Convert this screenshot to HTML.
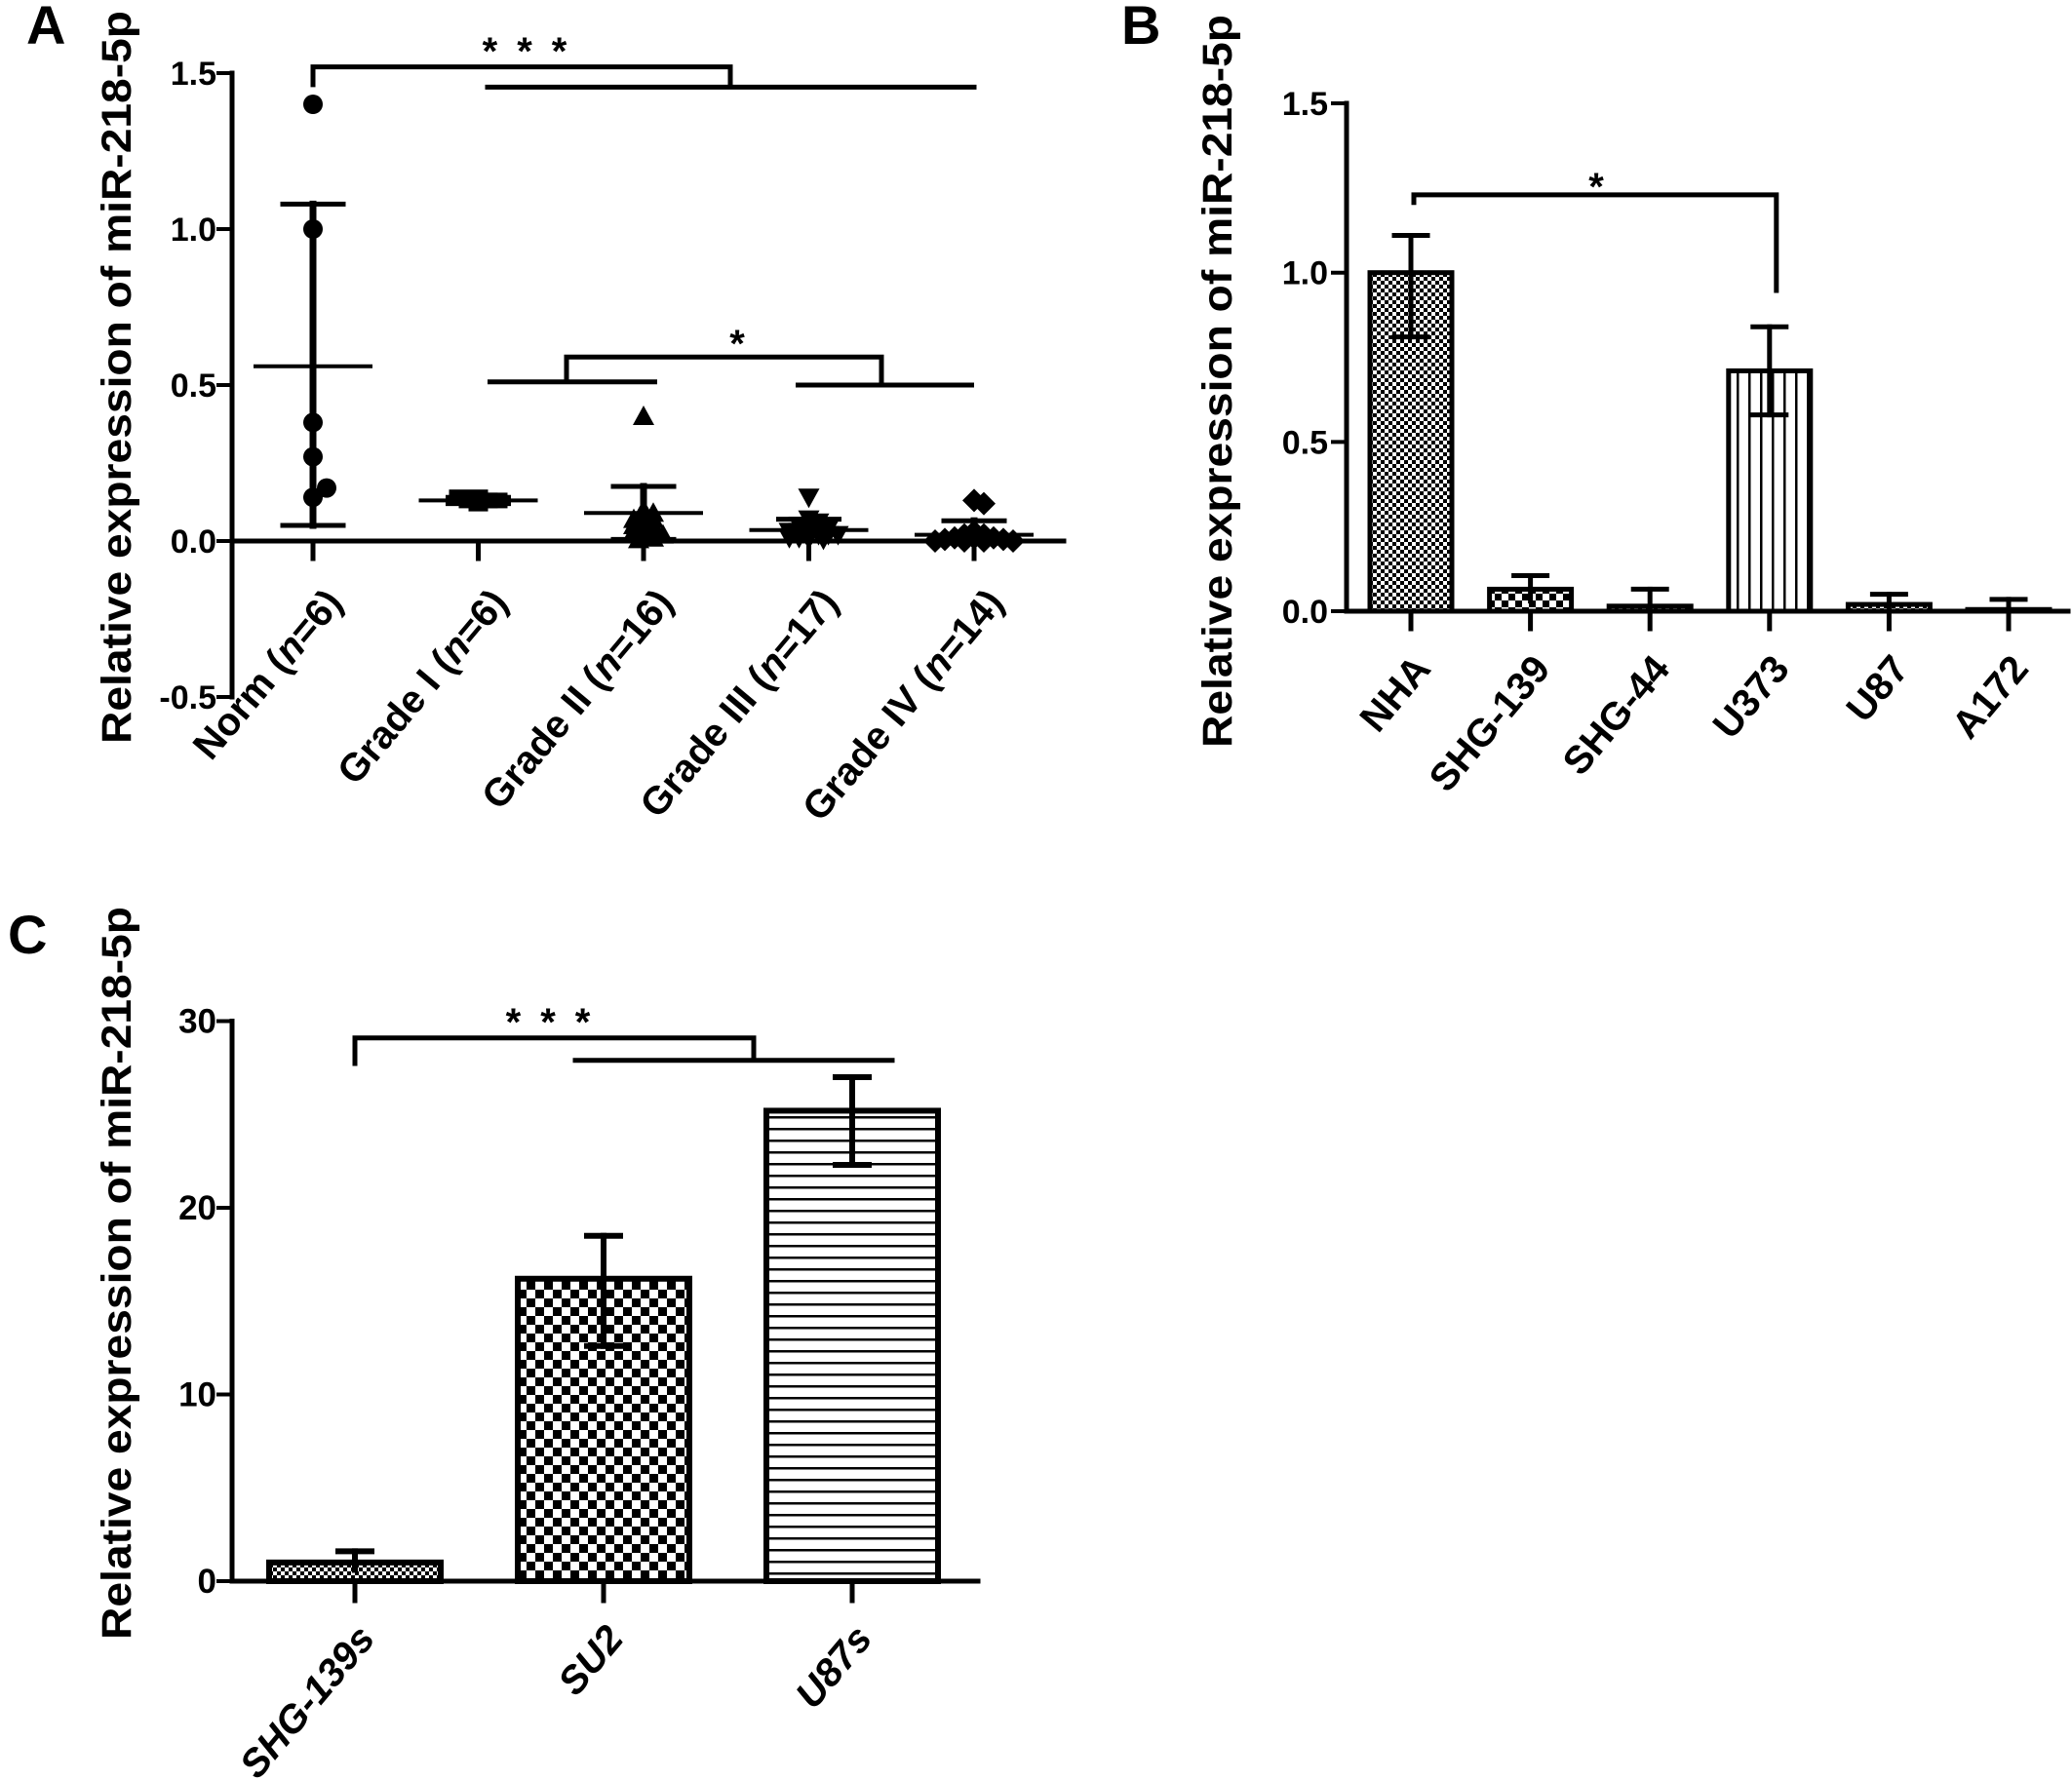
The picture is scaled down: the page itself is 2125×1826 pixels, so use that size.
<!DOCTYPE html>
<html><head><meta charset="utf-8">
<style>
html,body{margin:0;padding:0;background:#fff;}
svg{display:block;}
text{font-family:"Liberation Sans",Arial,sans-serif;font-weight:bold;fill:#000;}
</style></head>
<body>
<svg id="fig" xmlns="http://www.w3.org/2000/svg" width="2125" height="1826" viewBox="0 0 2125 1826">
<defs>
<pattern id="patFine" width="8" height="8" patternUnits="userSpaceOnUse"><rect width="8" height="8" fill="#fff"/><rect width="4" height="4" fill="#000"/><rect x="4" y="4" width="4" height="4" fill="#000"/></pattern>
<pattern id="patCheck" width="14" height="14" patternUnits="userSpaceOnUse"><rect width="14" height="14" fill="#fff"/><rect width="7" height="7" fill="#000"/><rect x="7" y="7" width="7" height="7" fill="#000"/></pattern>
<pattern id="patCheckC" width="18" height="18" patternUnits="userSpaceOnUse"><rect width="18" height="18" fill="#fff"/><rect width="9" height="9" fill="#000"/><rect x="9" y="9" width="9" height="9" fill="#000"/></pattern>
<pattern id="patV" width="12" height="12" patternUnits="userSpaceOnUse"><rect width="12" height="12" fill="#fff"/><rect x="5" width="2.5" height="12" fill="#000"/></pattern>
<pattern id="patH" width="12" height="12" patternUnits="userSpaceOnUse"><rect width="12" height="12" fill="#fff"/><rect y="5" width="12" height="2.5" fill="#000"/></pattern>
</defs>
<g id="root"></g>
</svg>
<script>
// ---------- Panel A data ----------
const catsA = ["Norm", "Grade I", "Grade II", "Grade III", "Grade IV"];
const nA = ["6", "6", "16", "17", "14"];
const normVals = [1.40, 1.00, 0.38, 0.27, 0.14, 0.17];
const grade1Vals = [0.14, 0.13, 0.13, 0.12, 0.13, 0.14];
const grade2Vals = [0.40, 0.10, 0.09, 0.08, 0.07, 0.07, 0.06, 0.05, 0.05, 0.04, 0.03, 0.03, 0.02, 0.02, 0.01, 0.005];
const grade3Vals = [0.14, 0.07, 0.06, 0.05, 0.05, 0.04, 0.04, 0.03, 0.03, 0.03, 0.02, 0.02, 0.02, 0.01, 0.01, 0.01, 0.005];
const grade4Vals = [0.13, 0.12, 0.03, 0.02, 0.02, 0.01, 0.01, 0.01, 0.005, 0.005, 0, 0, 0, 0];
const meanA = [0.56, 0.13, 0.09, 0.035, 0.02];
const sdHiA = [1.08, 0.14, 0.175, 0.07, 0.065];
const sdLoA = [0.05, 0.12, 0.005, 0.0, 0.0];
const ticksA = [-0.5, 0.0, 0.5, 1.0, 1.5];
const tickLabelsA = ["-0.5", "0.0", "0.5", "1.0", "1.5"];
// ---------- Panel B data ----------
const catsB = ["NHA", "SHG-139", "SHG-44", "U373", "U87", "A172"];
const valsB = [1.0, 0.065, 0.015, 0.71, 0.02, 0.005];
const errHiB = [1.11, 0.105, 0.065, 0.84, 0.05, 0.035];
const errLoB = [0.81, 0.03, 0.0, 0.58, 0.0, 0.0];
const ticksB = [0.0, 0.5, 1.0, 1.5];
const tickLabelsB = ["0.0", "0.5", "1.0", "1.5"];
// ---------- Panel C data ----------
const catsC = ["SHG-139s", "SU2", "U87s"];
const valsC = [1.0, 16.2, 25.2];
const errHiC = [1.6, 18.5, 27.0];
const errLoC = [0.6, 12.6, 22.3];
const ticksC = [0, 10, 20, 30];
const tickLabelsC = ["0", "10", "20", "30"];

const NS = "http://www.w3.org/2000/svg";
const root = document.getElementById("root");
function mk(tag, attrs, parent) {
  const e = document.createElementNS(NS, tag);
  for (const k in attrs) e.setAttribute(k, attrs[k]);
  (parent || root).appendChild(e);
  return e;
}
function line(x1, y1, x2, y2, w, p) {
  return mk("line", {x1: x1, y1: y1, x2: x2, y2: y2, stroke: "#000", "stroke-width": w || 5, "stroke-linecap": "square"}, p);
}

const yA = v => 555 - v * 320;
const xA = i => 321 + i * 169.5;
const yB = v => 627 - v * 347.3;
const xB = i => 1447 + i * 122.6;
const yC = v => 1622 - v * 19.15;
const xC = i => 364 + i * 255;

// ---------- Panel A ----------
const gA = mk("g", {});


let t = mk("text", {x: 27, y: 45, "font-size": 56}, gA);
t.textContent = "A";


t = mk("text", {transform: "translate(134,387) rotate(-90)", "text-anchor": "middle", "font-size": 43, textLength: 752, lengthAdjust: "spacingAndGlyphs"}, gA);
t.textContent = "Relative expression of miR-218-5p";


let ax = line(238, yA(1.5), 238, yA(-0.5), 5, gA);


ax = line(238, yA(0), 1091, yA(0), 5, gA);


ticksA.forEach((v, i) => {
  line(224, yA(v), 238, yA(v), 4, gA);
  const tl = mk("text", {x: 222, y: yA(v) + 12, "text-anchor": "end", "font-size": 34}, gA);
  tl.textContent = tickLabelsA[i];
  
  
});
const groupsA = [normVals, grade1Vals, grade2Vals, grade3Vals, grade4Vals];
function marker(kind, cx, cy, p) {
  const r = 10;
  if (kind === 0) return mk("circle", {cx: cx, cy: cy, r: r}, p);
  if (kind === 1) return mk("rect", {x: cx - r, y: cy - 8, width: 2 * r, height: 16}, p);
  if (kind === 2) return mk("polygon", {points: `${cx},${cy - 11} ${cx + 11},${cy + 9} ${cx - 11},${cy + 9}`}, p);
  if (kind === 3) return mk("polygon", {points: `${cx},${cy + 11} ${cx + 11},${cy - 9} ${cx - 11},${cy - 9}`}, p);
  return mk("polygon", {points: `${cx},${cy - 12} ${cx + 12},${cy} ${cx},${cy + 12} ${cx - 12},${cy}`}, p);
}
groupsA.forEach((vals, gi) => {
  const cx = xA(gi);
  line(cx, yA(0), cx, yA(0) + 18, 5, gA);
  const placed = [];
  const step = gi === 0 ? 14 : 5, minD = gi === 0 ? 16 : 6;
  vals.forEach(v => {
    const cy = yA(v);
    let off = 0;
    for (let k = 0; k < 60; k++) {
      const cand = k === 0 ? 0 : (k % 2 ? 1 : -1) * Math.ceil(k / 2) * step;
      if (placed.every(pp => Math.hypot(pp[0] - cand, pp[1] - cy) >= minD)) { off = cand; break; }
    }
    placed.push([off, cy]);
    const m = marker(gi, cx + off, cy, gA);
    
    
  });
  const mw = 59, cw = 31;
  let e = line(cx, yA(sdHiA[gi]), cx, yA(sdLoA[gi]), 7, gA);
  
  
  line(cx - cw, yA(sdHiA[gi]), cx + cw, yA(sdHiA[gi]), 5, gA);
  line(cx - cw, yA(sdLoA[gi]), cx + cw, yA(sdLoA[gi]), 5, gA);
  e = line(cx - mw, yA(meanA[gi]), cx + mw, yA(meanA[gi]), 4, gA);
  
  
  const lab = mk("text", {transform: `translate(${cx + 32},${yA(0) + 64}) rotate(-50)`, "text-anchor": "end", "font-size": 40}, gA);
  lab.innerHTML = catsA[gi] + ' (<tspan font-style="italic">n</tspan>=' + nA[gi] + ')';
  
  
});
const brA = mk("g", {}, gA);


mk("path", {d: `M${xA(0)},${yA(1.455)} V${yA(1.52)} H749 V${yA(1.455)}`, fill: "none", stroke: "#000", "stroke-width": 5}, brA);
line(500, yA(1.455), xA(4), yA(1.455), 5, brA);
t = mk("text", {x: 548, y: 66, "text-anchor": "middle", "font-size": 40, "letter-spacing": 20}, brA);
t.textContent = "***";
mk("path", {d: `M500,${yA(0.51)} H674 M581,${yA(0.51)} V${yA(0.59)} H904 V${yA(0.5)} M816,${yA(0.5)} H${xA(4)}`, fill: "none", stroke: "#000", "stroke-width": 5}, brA);
t = mk("text", {x: 756, y: 366, "text-anchor": "middle", "font-size": 40}, brA);
t.textContent = "*";

// ---------- Panel B ----------
const gB = mk("g", {});


t = mk("text", {x: 1150, y: 45, "font-size": 56}, gB);
t.textContent = "B";


t = mk("text", {transform: "translate(1263,391) rotate(-90)", "text-anchor": "middle", "font-size": 43, textLength: 752, lengthAdjust: "spacingAndGlyphs"}, gB);
t.textContent = "Relative expression of miR-218-5p";


ax = line(1381, yB(1.5), 1381, yB(0), 5, gB);


ticksB.forEach((v, i) => {
  line(1367, yB(v), 1381, yB(v), 4, gB);
  const tl = mk("text", {x: 1362, y: yB(v) + 12, "text-anchor": "end", "font-size": 34}, gB);
  tl.textContent = tickLabelsB[i];
  
  
});
const fillsB = ["url(#patFine)", "url(#patCheck)", "url(#patFine)", "url(#patV)", "url(#patFine)", "url(#patFine)"];
catsB.forEach((c, i) => {
  const cx = xB(i), bw = 84;
  const b = mk("rect", {x: cx - bw / 2, y: yB(valsB[i]), width: bw, height: yB(0) - yB(valsB[i]), fill: fillsB[i], stroke: "#000", "stroke-width": 5}, gB);
  
  
  line(cx, yB(errHiB[i]), cx, yB(errLoB[i]), 5, gB);
  line(cx - 17, yB(errHiB[i]), cx + 17, yB(errHiB[i]), 5, gB);
  if (errLoB[i] > 0.05) line(cx - 17, yB(errLoB[i]), cx + 17, yB(errLoB[i]), 5, gB);
  line(cx, yB(0), cx, yB(0) + 18, 5, gB);
  const lab = mk("text", {transform: `translate(${cx + 22},${yB(0) + 60}) rotate(-50)`, "text-anchor": "end", "font-size": 40}, gB);
  lab.textContent = c;
  
  
});
ax = line(1381, yB(0), 2121, yB(0), 5, gB);


const brB = mk("path", {d: `M${xB(0) + 3},${yB(1.2)} V${yB(1.23)} H${xB(3) + 7} V${yB(0.94)}`, fill: "none", stroke: "#000", "stroke-width": 5}, gB);


t = mk("text", {x: 1637, y: 205, "text-anchor": "middle", "font-size": 40}, gB);
t.textContent = "*";

// ---------- Panel C ----------
const gC = mk("g", {});


t = mk("text", {x: 8, y: 978, "font-size": 56}, gC);
t.textContent = "C";


t = mk("text", {transform: "translate(134,1306) rotate(-90)", "text-anchor": "middle", "font-size": 43, textLength: 752, lengthAdjust: "spacingAndGlyphs"}, gC);
t.textContent = "Relative expression of miR-218-5p";


ax = line(238, yC(30), 238, yC(0), 5, gC);


ticksC.forEach((v, i) => {
  line(224, yC(v), 238, yC(v), 4, gC);
  const tl = mk("text", {x: 222, y: yC(v) + 12, "text-anchor": "end", "font-size": 35}, gC);
  tl.textContent = tickLabelsC[i];
  
  
});
const fillsC = ["url(#patFine)", "url(#patCheckC)", "url(#patH)"];
catsC.forEach((c, i) => {
  const cx = xC(i), bw = 176;
  const b = mk("rect", {x: cx - bw / 2, y: yC(valsC[i]), width: bw, height: yC(0) - yC(valsC[i]), fill: fillsC[i], stroke: "#000", "stroke-width": 6}, gC);
  
  
  line(cx, yC(errHiC[i]), cx, yC(errLoC[i]), 6, gC);
  line(cx - 17, yC(errHiC[i]), cx + 17, yC(errHiC[i]), 6, gC);
  if (errLoC[i] > 2) line(cx - 17, yC(errLoC[i]), cx + 17, yC(errLoC[i]), 6, gC);
  line(cx, yC(0), cx, yC(0) + 20, 5, gC);
  const lab = mk("text", {transform: `translate(${cx + 22},${yC(0) + 60}) rotate(-50)`, "text-anchor": "end", "font-size": 40, "font-style": "italic"}, gC);
  lab.textContent = c;
  
  
});
ax = line(238, yC(0), 1003, yC(0), 5, gC);


const brC = mk("g", {}, gC);


mk("path", {d: `M${xC(0)},${yC(27.6)} V${yC(29.1)} H773 V${yC(27.9)}`, fill: "none", stroke: "#000", "stroke-width": 5}, brC);
line(590, yC(27.9), 915, yC(27.9), 5, brC);
t = mk("text", {x: 572, y: 1062, "text-anchor": "middle", "font-size": 40, "letter-spacing": 20}, brC);
t.textContent = "***";
</script>
</body></html>
